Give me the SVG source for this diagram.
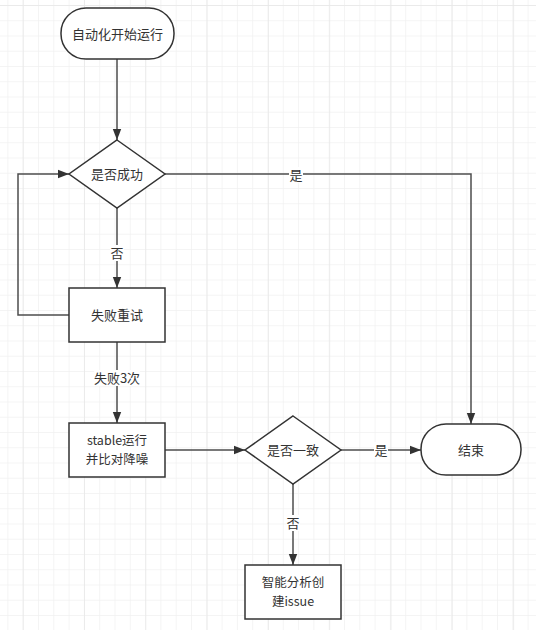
<svg xmlns="http://www.w3.org/2000/svg" width="536" height="630" viewBox="0 0 536 630">
<style>
.shape{fill:#ffffff;stroke:#333333;stroke-width:1.5}
.conn{fill:none;stroke:#4d4d4d;stroke-width:1.5}
.t{font-family:"Noto Sans CJK SC","Microsoft YaHei",sans-serif;font-size:13px;fill:#333333;text-anchor:middle}
.t2{font-size:12.5px}
.lbg{fill:#ffffff}
</style>
<defs>
<pattern id="minor" patternUnits="userSpaceOnUse" x="7.4" y="5" width="15.3" height="15.25">
<path d="M0,0 H15.3 M0,0 V15.25" stroke="#f1f1f1" stroke-width="1.5" fill="none"/>
</pattern>
<pattern id="major" patternUnits="userSpaceOnUse" x="22.7" y="5" width="61.3" height="61">
<path d="M0,0 H61.3 M0,0 V61" stroke="#e8e8e8" stroke-width="1.5" fill="none"/>
</pattern>
<marker id="arr" markerUnits="userSpaceOnUse" markerWidth="11" markerHeight="10" refX="11" refY="5" orient="auto">
<path d="M0,0.8 L11,5 L0,9.2 z" fill="#333333"/>
</marker>
</defs>
<rect width="536" height="630" fill="#ffffff"/>
<rect width="536" height="630" fill="url(#minor)"/>
<rect width="536" height="630" fill="url(#major)"/>

<g id="connectors">
<path class="conn" d="M117,59 V140" marker-end="url(#arr)"/>
<path class="conn" d="M117,208 V288" marker-end="url(#arr)"/>
<path class="conn" d="M69,315 H18 V174 H69" marker-end="url(#arr)"/>
<path class="conn" d="M165,174 H471 V424" marker-end="url(#arr)"/>
<path class="conn" d="M117,342 V423" marker-end="url(#arr)"/>
<path class="conn" d="M165,450 H245" marker-end="url(#arr)"/>
<path class="conn" d="M341,450 H421" marker-end="url(#arr)"/>
<path class="conn" d="M293,484 V565" marker-end="url(#arr)"/>
<rect class="lbg" x="110" y="245" width="14" height="16"/>
<text class="t" x="117" y="257.5">否</text>
<rect class="lbg" x="289" y="167" width="14" height="16"/>
<text class="t" x="296" y="179.5">是</text>
<rect class="lbg" x="94" y="370" width="46" height="16"/>
<text class="t" x="117" y="382.5">失败3次</text>
<rect class="lbg" x="374" y="442" width="14" height="16"/>
<text class="t" x="381" y="454.5">是</text>
<rect class="lbg" x="286" y="515" width="14" height="16"/>
<text class="t" x="293" y="527.5">否</text>
</g>

<g id="start">
<rect class="shape" x="61" y="8" width="113" height="51" rx="25" ry="25"/>
<text class="t" x="117.5" y="38.5">自动化开始运行</text>
</g>
<g id="check-success">
<polygon class="shape" points="117,140 165,174 117,208 69,174"/>
<text class="t" x="117" y="178.5">是否成功</text>
</g>
<g id="retry">
<rect class="shape" x="69" y="288" width="96" height="54"/>
<text class="t" x="117" y="320">失败重试</text>
</g>
<g id="stable">
<rect class="shape" x="69" y="423" width="96" height="54"/>
<text class="t t2" x="117" y="445"><tspan x="117" y="445">stable运行</tspan><tspan x="117" y="464">并比对降噪</tspan></text>
</g>
<g id="check-consistent">
<polygon class="shape" points="293,416 341,450 293,484 245,450"/>
<text class="t" x="293" y="454.5">是否一致</text>
</g>
<g id="end">
<rect class="shape" x="421" y="424" width="100" height="51" rx="25" ry="25"/>
<text class="t" x="471" y="454.5">结束</text>
</g>
<g id="issue">
<rect class="shape" x="245" y="565" width="96" height="54"/>
<text class="t t2" x="293" y="587"><tspan x="293" y="587">智能分析创</tspan><tspan x="293" y="606">建issue</tspan></text>
</g>
</svg>
